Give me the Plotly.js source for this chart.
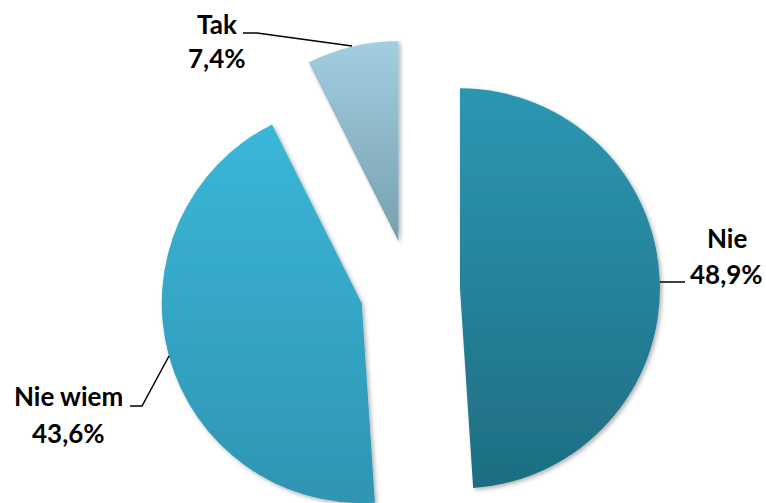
<!DOCTYPE html>
<html>
<head>
<meta charset="utf-8">
<script src="https://cdn.plot.ly/plotly-3.0.1.min.js"></script>
<style>
html,body{margin:0;padding:0;overflow:hidden;background:#fff;}
#chart{width:766px;height:540px;}
</style>
</head>
<body>
<div id="chart"></div>
<script>
// Data
const categories = ["Nie", "Nie wiem", "Tak"];
const values = [48.9, 43.6, 7.4];
const valueLabels = ["48,9%", "43,6%", "7,4%"];

// Styles
const topColors = ["#2c97b2", "#3bb6d9", "#a1cee0"];
const bottomColors = ["#1e6d81", "#2e95b2", "#789fae"];
const midColors = ["#2683a0", "#35a8c9", "#8cb9cb"];

const W = 766, H = 540;
const M = {l: 160, r: 106, t: 40, b: 0};
const pw = W - M.l - M.r, ph = H - M.t - M.b;
const px = x => (x - M.l) / pw;
const py = y => 1 - (y - M.t) / ph;

// label anchor positions (pixel centers) for name and value lines
const labelPos = [
  {name: [727, 238], val: [726, 274], line: [[660,282],[685,282]]},
  {name: [68, 396], val: [68, 433], line: [[130,406],[142,406],[169,356]]},
  {name: [217, 24], val: [217, 58], line: [[243,33],[257,33],[352,46]]}
];

const font = {family: "Lato, 'Open Sans', sans-serif", size: 26, color: "#000"};
const annotations = [];
const shapes = [];
categories.forEach((c, i) => {
  const p = labelPos[i];
  annotations.push({text: "<b>" + c + "</b>", x: px(p.name[0]), y: py(p.name[1]), xref: "paper", yref: "paper",
    xanchor: "center", yanchor: "middle", showarrow: false, font: font});
  annotations.push({text: "<b>" + valueLabels[i] + "</b>", x: px(p.val[0]), y: py(p.val[1]), xref: "paper", yref: "paper",
    xanchor: "center", yanchor: "middle", showarrow: false, font: font});
  const pts = p.line;
  let d = "M " + px(pts[0][0]) + " " + py(pts[0][1]);
  for (let k = 1; k < pts.length; k++) d += " L " + px(pts[k][0]) + " " + py(pts[k][1]);
  shapes.push({type: "path", xref: "paper", yref: "paper", path: d, line: {color: "#000", width: 1.5}});
});

const trace = {
  type: "pie",
  labels: categories,
  values: values,
  sort: false,
  direction: "clockwise",
  rotation: 0,
  pull: [0.25, 0.25, 0.25],
  textinfo: "none",
  hoverinfo: "none",
  marker: {colors: midColors, line: {width: 0}},
  showlegend: false
};

const layout = {
  width: W, height: H,
  margin: M,
  paper_bgcolor: "#fff",
  plot_bgcolor: "#fff",
  showlegend: false,
  annotations: annotations,
  shapes: shapes
};

Plotly.newPlot("chart", [trace], layout, {staticPlot: true, displayModeBar: false}).then(gd => {
  const svg = gd.querySelector("svg.main-svg");
  const ns = "http://www.w3.org/2000/svg";
  let defs = svg.querySelector("defs");
  if (!defs) { defs = document.createElementNS(ns, "defs"); svg.insertBefore(defs, svg.firstChild); }
  const filt = document.createElementNS(ns, "filter");
  filt.setAttribute("id", "sliceShadow");
  filt.setAttribute("x", "-10%"); filt.setAttribute("y", "-10%");
  filt.setAttribute("width", "130%"); filt.setAttribute("height", "130%");
  const ds = document.createElementNS(ns, "feDropShadow");
  ds.setAttribute("dx", "2"); ds.setAttribute("dy", "2");
  ds.setAttribute("stdDeviation", "2"); ds.setAttribute("flood-opacity", "0.3");
  filt.appendChild(ds);
  defs.appendChild(filt);
  const paths = gd.querySelectorAll(".slice path.surface");
  paths.forEach((p, i) => {
    const g = document.createElementNS(ns, "linearGradient");
    g.setAttribute("id", "sliceGrad" + i);
    g.setAttribute("x1", "0"); g.setAttribute("y1", "0");
    g.setAttribute("x2", "0"); g.setAttribute("y2", "1");
    const s1 = document.createElementNS(ns, "stop");
    s1.setAttribute("offset", "0"); s1.setAttribute("stop-color", topColors[i]);
    const s2 = document.createElementNS(ns, "stop");
    s2.setAttribute("offset", "1"); s2.setAttribute("stop-color", bottomColors[i]);
    g.appendChild(s1); g.appendChild(s2);
    defs.appendChild(g);
    p.style.fill = "url(#sliceGrad" + i + ")";
    p.setAttribute("filter", "url(#sliceShadow)");
  });
});
</script>
</body>
</html>
